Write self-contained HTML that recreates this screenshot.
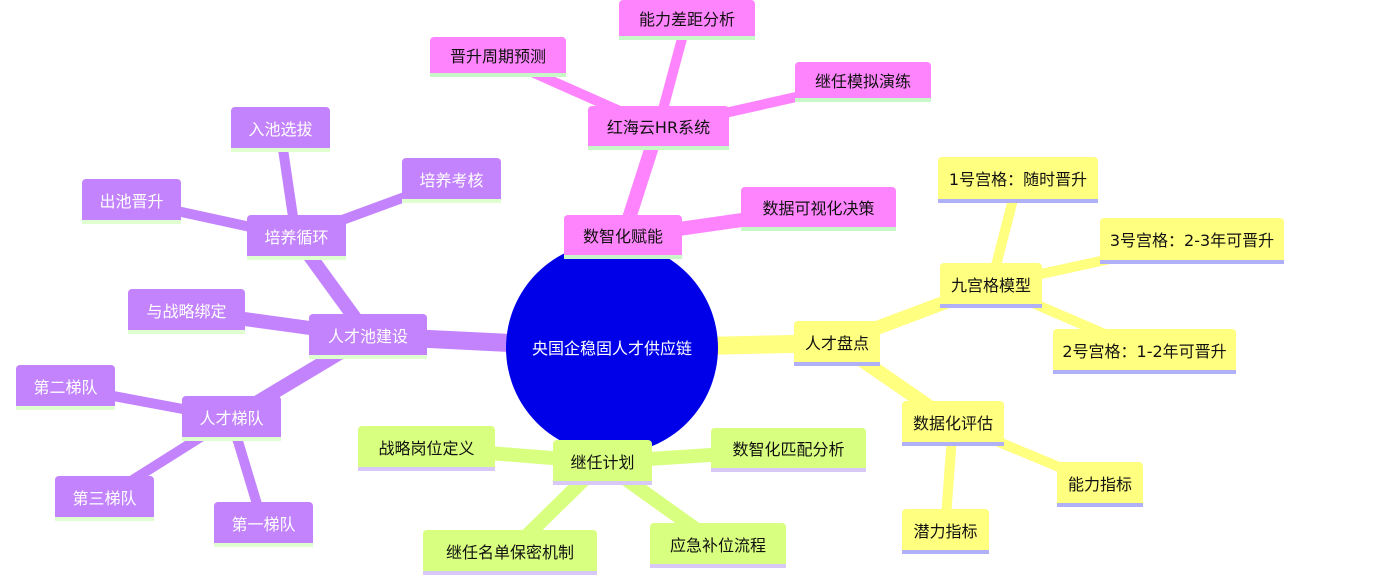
<!DOCTYPE html>
<html><head><meta charset="utf-8"><style>
body{margin:0;width:1386px;height:580px;background:#fff;position:relative;overflow:hidden;font-family:"DejaVu Sans","Noto Sans CJK SC",sans-serif}
.n{position:absolute;box-sizing:border-box;display:flex;align-items:center;justify-content:center;font-size:16px;border-radius:4px 4px 0 0;border-bottom:4px solid;white-space:nowrap}
.p{background:#c383fd;color:#fff;border-color:#e0ffd0}
.m{background:#fd84fd;color:#111;border-color:#c8f8c8}
.y{background:#ffff80;color:#111;border-color:#b0b0f8}
.g{background:#d9ff80;color:#111;border-color:#d8c8f8}
svg{position:absolute;left:0;top:0}
</style></head><body>
<svg width="1386" height="580">
<g stroke-linecap="butt">
<g stroke="#c383fd">
<line x1="612" y1="348" x2="368" y2="336" stroke-width="18"/>
<line x1="368" y1="336" x2="296" y2="237" stroke-width="14"/>
<line x1="368" y1="336" x2="186" y2="311" stroke-width="14"/>
<line x1="368" y1="336" x2="231" y2="418" stroke-width="14"/>
<line x1="296" y1="237" x2="280" y2="129" stroke-width="10"/>
<line x1="296" y1="237" x2="131" y2="201" stroke-width="10"/>
<line x1="296" y1="237" x2="451" y2="180" stroke-width="10"/>
<line x1="231" y1="418" x2="65" y2="387" stroke-width="10"/>
<line x1="231" y1="418" x2="104" y2="498" stroke-width="10"/>
<line x1="231" y1="418" x2="263" y2="524" stroke-width="10"/>
</g>
<g stroke="#fd84fd">
<line x1="612" y1="348" x2="623" y2="237" stroke-width="18"/>
<line x1="623" y1="237" x2="818" y2="209" stroke-width="14"/>
<line x1="623" y1="237" x2="658" y2="128" stroke-width="14"/>
<line x1="658" y1="128" x2="687" y2="20" stroke-width="10"/>
<line x1="658" y1="128" x2="498" y2="57" stroke-width="10"/>
<line x1="658" y1="128" x2="863" y2="82" stroke-width="10"/>
</g>
<g stroke="#ffff80">
<line x1="612" y1="348" x2="837" y2="343" stroke-width="18"/>
<line x1="837" y1="343" x2="991" y2="285" stroke-width="14"/>
<line x1="837" y1="343" x2="953" y2="423" stroke-width="14"/>
<line x1="991" y1="285" x2="1018" y2="180" stroke-width="10"/>
<line x1="991" y1="285" x2="1192" y2="241" stroke-width="10"/>
<line x1="991" y1="285" x2="1144" y2="351" stroke-width="10"/>
<line x1="953" y1="423" x2="1100" y2="484" stroke-width="10"/>
<line x1="953" y1="423" x2="945" y2="531" stroke-width="10"/>
</g>
<g stroke="#d9ff80">
<line x1="612" y1="348" x2="602" y2="462" stroke-width="18"/>
<line x1="602" y1="462" x2="426" y2="448" stroke-width="14"/>
<line x1="602" y1="462" x2="788" y2="450" stroke-width="14"/>
<line x1="602" y1="462" x2="510" y2="552" stroke-width="14"/>
<line x1="602" y1="462" x2="718" y2="545" stroke-width="14"/>
</g>
</g>
<circle cx="612" cy="348" r="106" fill="#0000e8"/>
<text x="612" y="354" fill="#fff" font-size="16" text-anchor="middle" font-family="DejaVu Sans, Noto Sans CJK SC, sans-serif">央国企稳固人才供应链</text>
</svg>
<div class="n m" style="left:619px;top:0;width:136px;height:40px">能力差距分析</div>
<div class="n m" style="left:430px;top:37px;width:136px;height:40px">晋升周期预测</div>
<div class="n m" style="left:795px;top:62px;width:136px;height:40px">继任模拟演练</div>
<div class="n m" style="left:588px;top:106px;width:141px;height:44px">红海云HR系统</div>
<div class="n m" style="left:564px;top:215px;width:118px;height:44px">数智化赋能</div>
<div class="n m" style="left:741px;top:187px;width:155px;height:44px">数据可视化决策</div>
<div class="n y" style="left:938px;top:157px;width:160px;height:46px">1号宫格：随时晋升</div>
<div class="n y" style="left:1100px;top:218px;width:184px;height:46px">3号宫格：2-3年可晋升</div>
<div class="n y" style="left:940px;top:263px;width:102px;height:45px">九宫格模型</div>
<div class="n y" style="left:1053px;top:329px;width:183px;height:45px">2号宫格：1-2年可晋升</div>
<div class="n y" style="left:794px;top:321px;width:86px;height:45px">人才盘点</div>
<div class="n y" style="left:902px;top:401px;width:102px;height:45px">数据化评估</div>
<div class="n y" style="left:1057px;top:462px;width:86px;height:45px">能力指标</div>
<div class="n y" style="left:902px;top:509px;width:87px;height:45px">潜力指标</div>
<div class="n p" style="left:231px;top:107px;width:99px;height:45px">入池选拔</div>
<div class="n p" style="left:82px;top:179px;width:99px;height:45px">出池晋升</div>
<div class="n p" style="left:402px;top:158px;width:99px;height:45px">培养考核</div>
<div class="n p" style="left:247px;top:215px;width:99px;height:45px">培养循环</div>
<div class="n p" style="left:128px;top:289px;width:117px;height:45px">与战略绑定</div>
<div class="n p" style="left:309px;top:314px;width:118px;height:45px">人才池建设</div>
<div class="n p" style="left:16px;top:365px;width:99px;height:45px">第二梯队</div>
<div class="n p" style="left:182px;top:396px;width:99px;height:45px">人才梯队</div>
<div class="n p" style="left:55px;top:476px;width:99px;height:45px">第三梯队</div>
<div class="n p" style="left:214px;top:502px;width:99px;height:45px">第一梯队</div>
<div class="n g" style="left:358px;top:426px;width:137px;height:45px">战略岗位定义</div>
<div class="n g" style="left:553px;top:440px;width:99px;height:45px">继任计划</div>
<div class="n g" style="left:711px;top:428px;width:155px;height:44px">数智化匹配分析</div>
<div class="n g" style="left:423px;top:530px;width:174px;height:45px">继任名单保密机制</div>
<div class="n g" style="left:650px;top:523px;width:136px;height:45px">应急补位流程</div>
</body></html>
